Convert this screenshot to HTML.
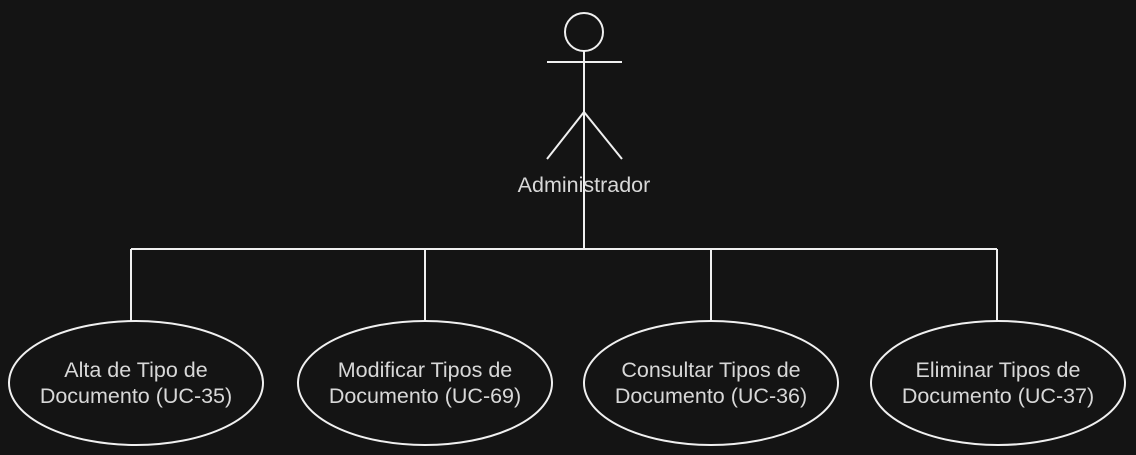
<!DOCTYPE html>
<html><head><style>html,body{margin:0;padding:0;background:#141414;}svg{display:block}</style></head>
<body>
<svg width="1136" height="455" xmlns="http://www.w3.org/2000/svg" style="font-family:'Liberation Sans',sans-serif">
<rect width="1136" height="455" fill="#141414"/>
<g stroke="#f0f0f0" stroke-width="2" fill="none">
<circle cx="584" cy="32" r="19"/>
<line x1="547" y1="62" x2="622" y2="62"/>
<line x1="584" y1="51" x2="584" y2="112"/>
<line x1="584" y1="112" x2="547" y2="159"/>
<line x1="584" y1="112" x2="622" y2="159"/>
<line x1="584" y1="86" x2="584" y2="249"/>
<line x1="131" y1="249" x2="997" y2="249"/>
<line x1="131" y1="249" x2="131" y2="321"/>
<line x1="425" y1="249" x2="425" y2="321"/>
<line x1="711" y1="249" x2="711" y2="321"/>
<line x1="997" y1="249" x2="997" y2="321"/>
<ellipse cx="136" cy="383" rx="127" ry="62" fill="#141414"/>
<ellipse cx="425" cy="383" rx="127" ry="62" fill="#141414"/>
<ellipse cx="711" cy="383" rx="127" ry="62" fill="#141414"/>
<ellipse cx="998" cy="383" rx="127" ry="62" fill="#141414"/>
</g>
<g fill="#d8d8d8" font-size="21.5" text-anchor="middle">
<text x="584" y="192">Administrador</text>
<text x="136" y="377">Alta de Tipo de</text><text x="136" y="403">Documento (UC-35)</text>
<text x="425" y="377">Modificar Tipos de</text><text x="425" y="403">Documento (UC-69)</text>
<text x="711" y="377">Consultar Tipos de</text><text x="711" y="403">Documento (UC-36)</text>
<text x="998" y="377">Eliminar Tipos de</text><text x="998" y="403">Documento (UC-37)</text>
</g>
</svg>
</body></html>
